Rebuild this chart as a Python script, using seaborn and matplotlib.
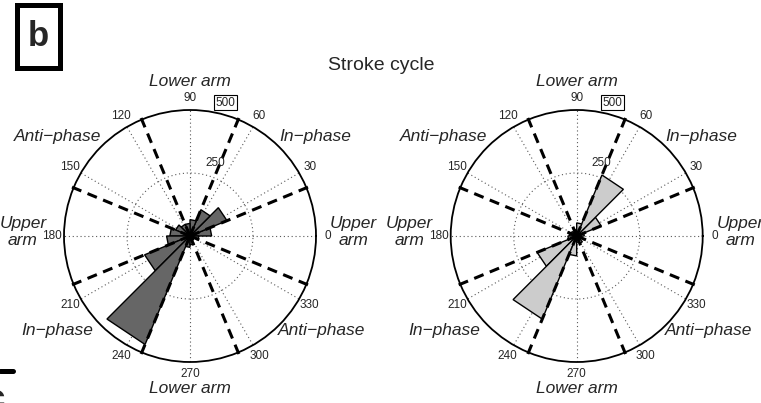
import numpy as np
import seaborn as sns
import matplotlib.pyplot as plt
from matplotlib.lines import Line2D

# rose histogram, 16 bins of 22.5 deg (left edges in degrees)
bin_edges = np.arange(0, 360, 22.5)
left_counts = [86, 159, 113, 65, 50, 50, 62, 80, 93, 195, 466, 45, 35, 20, 18, 35]
right_counts = [30, 105, 262, 52, 25, 20, 25, 30, 35, 170, 357, 79, 25, 32, 20, 20]

angle_ticks = list(range(0, 360, 30))
phase_bounds = [22.5, 67.5, 112.5, 157.5, 202.5, 247.5, 292.5, 337.5]

# (label, angle deg, radius in data units)
phase_labels = [
    ("Lower arm", 90, 615),
    ("Lower arm", 270, 607),
    ("Anti\u2212phase", 143.3, 658),
    ("In\u2212phase", 38.4, 633),
    ("In\u2212phase", 215.5, 648),
    ("Anti\u2212phase", 324.3, 645),
    ("Upper\narm", 178.6, 663),
    ("Upper\narm", 1.4, 650),
]

W, H = 761, 403

sns.set_style("white")
plt.rcParams['font.family'] = ['Liberation Sans', 'DejaVu Sans']

fig = plt.figure(figsize=(W / 100, H / 100), dpi=100)


def rose(cx, counts, color):
    R = 126
    ax = fig.add_axes([(cx - R) / W, (H - 236 - R) / H, 2 * R / W, 2 * R / H],
                      projection="polar")
    ax.set_ylim(0, 500)
    ax.set_xticks(np.deg2rad(angle_ticks))
    ax.set_xticklabels([])
    ax.set_yticks([250])
    ax.set_yticklabels([])
    ax.grid(True, color="0.35", linestyle=(0, (1, 2.5)), linewidth=0.8)
    ax.spines["polar"].set_color("black")
    ax.spines["polar"].set_linewidth(1.3)
    ax.set_facecolor("white")

    w = 22.5
    for a, c in zip(bin_edges, counts):
        th = np.deg2rad([0, a, a + w, 0])
        ax.fill(th, [0, c, c, 0], facecolor=color, edgecolor="black",
                linewidth=1.0, zorder=3)

    for b in phase_bounds:
        ax.plot(np.deg2rad([b, b]), [0, 512], color="black", lw=2.2,
                linestyle=(0, (3.3, 2.2)), zorder=4, clip_on=False)

    for a in angle_ticks:
        ax.text(np.deg2rad(a), 548, str(a), ha="center", va="center",
                fontsize=8.5, clip_on=False)
    ax.text(np.deg2rad(71), 306, "250", ha="center", va="center",
            fontsize=8.5, zorder=5)
    ax.text(np.deg2rad(75), 548, "500", ha="center", va="center",
            fontsize=8.5, clip_on=False,
            bbox=dict(boxstyle="square,pad=0.15", fc="white", ec="black", lw=0.8))

    for lab, a, r in phase_labels:
        ax.text(np.deg2rad(a), r, lab, ha="center", va="center",
                fontsize=12.5, style="italic", clip_on=False,
                multialignment="center", linespacing=1.15)
    return ax


rose(190, left_counts, "#666666")
rose(576.7, right_counts, "#cccccc")

fig.text(381 / W, 1 - 65 / H, "Stroke cycle", ha="center", va="center",
         fontsize=14)

# panel label b
fig.patches.append(plt.Rectangle((17 / W, 1 - 68 / H), 43 / W, 63 / H,
                                 transform=fig.transFigure, fill=False,
                                 ec="black", lw=3.6))
fig.text(38.5 / W, 1 - 37 / H, "b", ha="center", va="center",
         fontsize=25, fontweight="bold")
# edge of the next panel's label, cut off
fig.lines.append(Line2D([0, 13 / W], [1 - 371 / H, 1 - 371 / H],
                        transform=fig.transFigure, color="black", lw=3.6))
fig.text(-5 / W, 1 - 409 / H, "c", ha="center", va="baseline",
         fontsize=25, fontweight="bold")

fig.savefig("out.png", dpi=100)
